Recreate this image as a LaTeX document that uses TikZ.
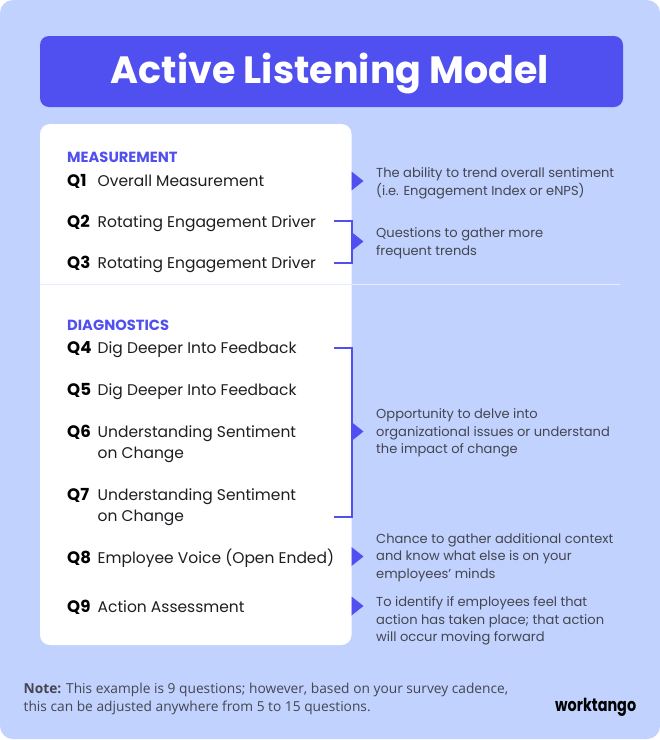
\documentclass[tikz,border=0pt]{standalone}
\usepackage{fontspec}
\setmainfont{Poppins}
\newfontfamily\notefont{Open Sans}
\definecolor{pagebg}{HTML}{C1D2FE}
\definecolor{accent}{HTML}{5050F0}
\definecolor{bodyink}{HTML}{1E1E22}
\definecolor{sideink}{HTML}{44464F}
\definecolor{rulecol}{HTML}{E6ECFB}
\tikzset{
  x=1pt,y=-1pt,
  qlabel/.style={anchor=base west,inner sep=0pt,font=\fontsize{16.6}{17}\selectfont\bfseries,text=black},
  qtext/.style={anchor=base west,inner sep=0pt,font=\fontsize{15.5}{20.8}\selectfont,text=bodyink,align=left},
  heading/.style={anchor=base west,inner sep=0pt,font=\fontsize{14.7}{14.7}\selectfont\bfseries,text=accent},
  sidetext/.style={anchor=west,inner sep=0pt,font=\fontsize{13.05}{17.6}\selectfont,text=sideink,align=left},
  notetext/.style={anchor=west,inner sep=0pt,font=\notefont\fontsize{13.75}{17.6}\selectfont,text=sideink,align=left},
  bracket/.style={draw=accent,line width=2pt},
  pointer/.style={fill=accent,draw=none},
}
\begin{document}
\begin{tikzpicture}
\useasboundingbox (0,0) rectangle (660,740);
\fill[white] (0,0) rectangle (660,740);
\fill[pagebg,rounded corners=13pt] (0,0) rectangle (660,739);
\fill[accent,rounded corners=9pt] (40,36) rectangle (623,107);
\node[inner sep=0pt,text=white,font=\fontsize{38}{38}\selectfont\bfseries] (title) at (330,73.5) {Active Listening Model};
\fill[white,rounded corners=10pt] (40,124) rectangle (351.5,645);
\draw[rulecol,line width=1pt] (40,284.5) -- (620,284.5);

\node[heading] (h1) at (67,162.5) {MEASUREMENT};
\node[qlabel] (q1) at (67,186.5) {Q1};
\node[qtext] (t1) at (97.5,186.5) {Overall Measurement};
\node[qlabel] (q2) at (67,227.5) {Q2};
\node[qtext] (t2) at (97.5,227.5) {Rotating Engagement Driver};
\node[qlabel] (q3) at (67,268.5) {Q3};
\node[qtext] (t3) at (97.5,268.5) {Rotating Engagement Driver};
\node[heading] (h2) at (67,330.5) {DIAGNOSTICS};
\node[qlabel] (q4) at (67,353.5) {Q4};
\node[qtext] (t4) at (97.5,353.5) {Dig Deeper Into Feedback};
\node[qlabel] (q5) at (67,395.5) {Q5};
\node[qtext] (t5) at (97.5,395.5) {Dig Deeper Into Feedback};
\node[qlabel] (q6) at (67,437.5) {Q6};
\node[qtext,anchor=west] (t6) at (97.5,444) {Understanding Sentiment\\on Change};
\node[qlabel] (q7) at (67,500.5) {Q7};
\node[qtext,anchor=west] (t7) at (97.5,507) {Understanding Sentiment\\on Change};
\node[qlabel] (q8) at (67,563) {Q8};
\node[qtext] (t8) at (97.5,563) {Employee Voice (Open Ended)};
\node[qlabel] (q9) at (67,612.5) {Q9};
\node[qtext] (t9) at (97.5,612.5) {Action Assessment};

\node[sidetext] (s1) at (376,183) {The ability to trend overall sentiment\\(i.e. Engagement Index or eNPS)};
\node[sidetext] (s2) at (376,243) {Questions to gather more\\frequent trends};
\node[sidetext] (s3) at (376,433) {Opportunity to delve into\\organizational issues or understand\\the impact of change};
\node[sidetext] (s4) at (376,557.5) {Chance to gather additional context\\and know what else is on your\\employees’ minds};
\node[sidetext] (s5) at (376,621) {To identify if employees feel that\\action has taken place; that action\\will occur moving forward};

\coordinate (b1a) at (334,220.5);
\coordinate (b1b) at (334,263);
\coordinate (b2a) at (334,348);
\coordinate (b2b) at (334,516.5);
\draw[bracket] (b1a) -| (351.5,263) -- (b1b);
\draw[bracket] (b2a) -| (351.5,516.5) -- (b2b);
\foreach \n/\y in {a1/181,a2/241.5,a3/431.5,a4/556.5,a5/606}{
  \fill[pointer] (351.5,\y-9.5) -- (363.5,\y) -- (351.5,\y+9.5) -- cycle;
}

\node[notetext] (note) at (23.5,699) {\textbf{Note:} This example is 9 questions; however, based on your survey cadence,\\this can be adjusted anywhere from 5 to 15 questions.};
\node[anchor=base west,inner sep=0pt,text=black,font=\fontsize{18}{18}\selectfont\bfseries] (logo) at (555,711) {\scalebox{0.8}[1]{worktango}};
\end{tikzpicture}
\end{document}
